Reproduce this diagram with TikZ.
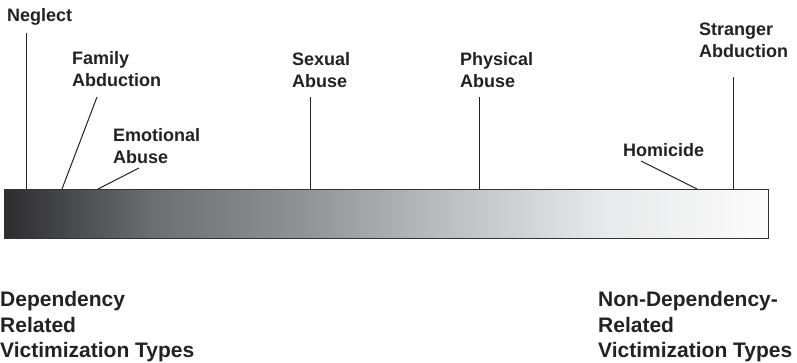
\documentclass[tikz,border=0pt]{standalone}
\usepackage{fontspec}
\setmainfont{Liberation Sans}
\definecolor{inkdark}{HTML}{222222}
\definecolor{barline}{HTML}{333333}
% dark-to-light scale; the bar spans the 25bp..75bp band of the shading
\pgfdeclarehorizontalshading{barshade}{100bp}{%
  rgb(0bp)=(0.176,0.176,0.188);
  rgb(25bp)=(0.176,0.176,0.188);
  rgb(34.8bp)=(0.424,0.431,0.443);
  rgb(44.6bp)=(0.569,0.576,0.588);
  rgb(54.5bp)=(0.745,0.753,0.765);
  rgb(64.3bp)=(0.910,0.914,0.918);
  rgb(75bp)=(0.988,0.988,0.988);
  rgb(100bp)=(0.988,0.988,0.988)}
\begin{document}
\begin{tikzpicture}[x=1pt,y=-1pt,
  lbl/.style={font=\fontsize{18}{22}\selectfont\bfseries, text=inkdark,
    inner sep=0pt, align=left, anchor=base west},
  endlbl/.style={font=\fontsize{21}{25.5}\selectfont\bfseries, text=inkdark,
    inner sep=0pt, align=left, anchor=base west},
  leader/.style={draw=inkdark, line width=1pt}]
\useasboundingbox (0,0) rectangle (797,362);

% scale bar
\node[draw=barline, line width=1pt, shading=barshade, minimum width=764pt,
  minimum height=49pt, inner sep=0pt, anchor=north west] (bar) at (4,189) {};

% labels (placed by the baseline of their last line)
\node[lbl] (neglect) at (7,21) {Neglect};
\node[lbl] (famabd) at (72,86) {Family\\Abduction};
\node[lbl] (emo) at (113,163) {Emotional\\Abuse};
\node[lbl] (sex) at (292,87) {Sexual\\Abuse};
\node[lbl] (phys) at (460,87) {Physical\\Abuse};
\node[lbl] (hom) at (623,156) {Homicide};
\node[lbl] (strabd) at (699,57) {Stranger\\Abduction};

\node[endlbl] (dep) at (0,357.5) {Dependency\\Related\\Victimization Types};
\node[endlbl] (nondep) at (598,357.5) {Non-Dependency-\\Related\\Victimization Types};

% leader line ends
\coordinate (neglectT) at (26,33);
\coordinate (famT) at (97,97);
\coordinate (famB) at (62,189);
\coordinate (emoT) at (139,168);
\coordinate (emoB) at (98,189);
\coordinate (sexT) at (310,97);
\coordinate (physT) at (479,97);
\coordinate (homT) at (641,161);
\coordinate (homB) at (697,189);
\coordinate (strT) at (733,77);

% leader lines
\draw[leader] (neglectT) -- (neglectT |- bar.north);
\draw[leader] (famT) -- (famB);
\draw[leader] (emoT) -- (emoB);
\draw[leader] (sexT) -- (sexT |- bar.north);
\draw[leader] (physT) -- (physT |- bar.north);
\draw[leader] (homT) -- (homB);
\draw[leader] (strT) -- (strT |- bar.north);
\end{tikzpicture}
\end{document}
